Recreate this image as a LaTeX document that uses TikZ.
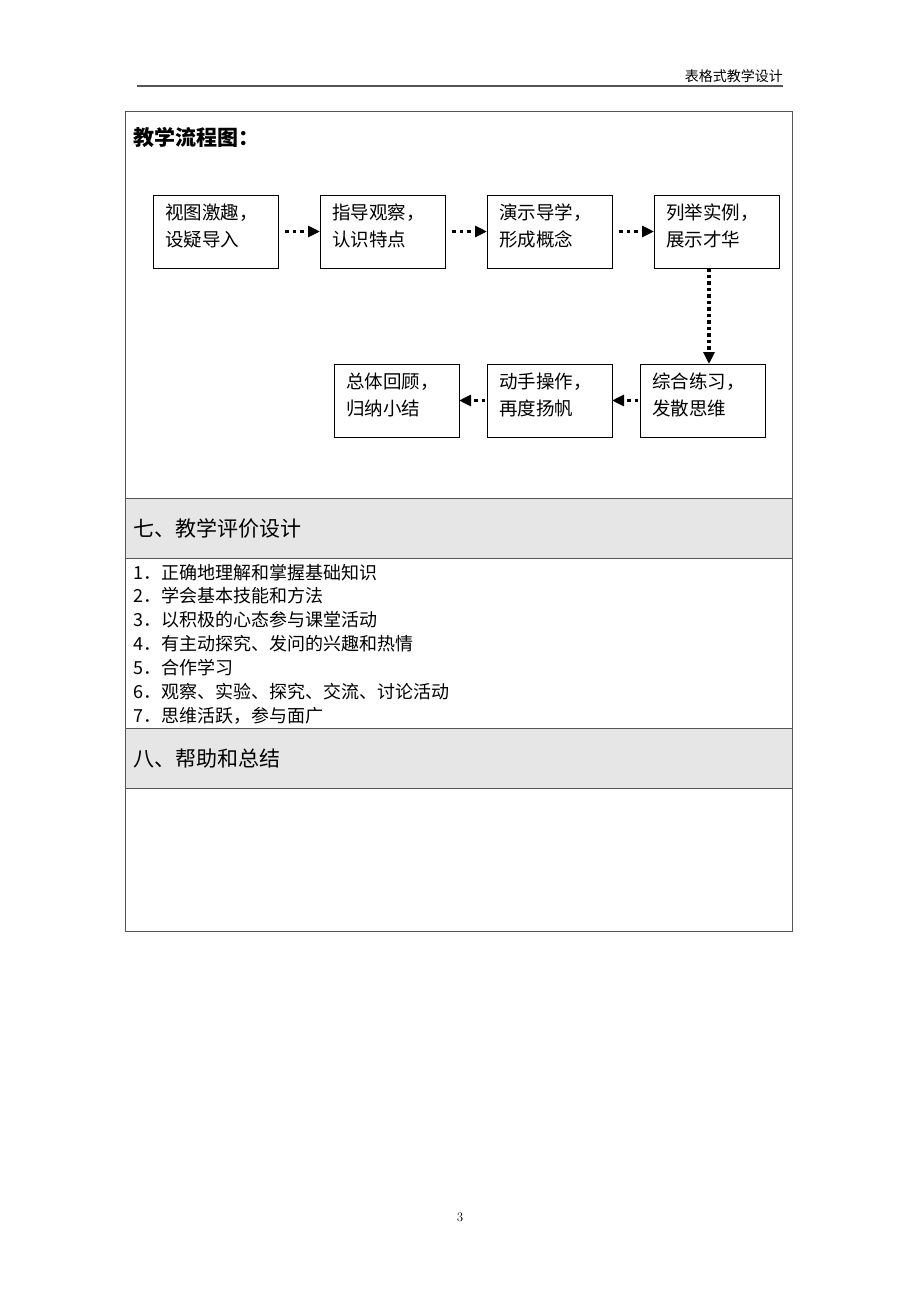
\documentclass[tikz,border=0pt]{standalone}
\usepackage{fontspec}
\newfontfamily\cjk{Noto Sans CJK SC}
\usetikzlibrary{positioning,arrows.meta}
\definecolor{rulegray}{HTML}{555555}
\definecolor{shadegray}{HTML}{E6E6E6}
\tikzset{
  flowbox/.style={draw=black, line width=1pt, outer sep=0, minimum width=125pt, minimum height=73pt,
    text width=101pt, inner xsep=12pt, align=left, text depth=40pt, font=\cjk\fontsize{18.5}{27}\selectfont},
  flowarrow/.style={line width=3.5pt, dash pattern=on 3.5pt off 4pt, -{Triangle[length=12pt,width=11pt]}},
  headtext/.style={inner sep=0, anchor=base west, font=\cjk\fontsize{21}{21}\selectfont},
  listtext/.style={inner sep=0, anchor=base west, font=\cjk\fontsize{18}{18}\selectfont},
}
\begin{document}
\begin{tikzpicture}[x=1pt, y=-1pt]
\useasboundingbox[fill=white] (0,0) rectangle (920,1302);
% page header
\node[inner sep=0, anchor=base east, font=\cjk\fontsize{14}{14}\selectfont] (pagehead) at (783,81) {表格式教学设计};
\draw[line width=2pt, rulegray] (137,86) -- (783,86);
% table
\fill[shadegray] (125,498) rectangle (792,558);
\fill[shadegray] (125,728) rectangle (792,788);
\draw[line width=1pt, rulegray] (125,111) rectangle (792,931);
\foreach \ry in {498,558,728,788}
  \draw[line width=1pt, rulegray] (125,\ry) -- (792,\ry);
\node[headtext, font=\cjk\bfseries\fontsize{21}{21}\selectfont] (flowtitle) at (133,145) {教学流程图：};
\node[headtext] (evaltitle) at (133,536) {七、教学评价设计};
\node[headtext] (sumtitle) at (133,766) {八、帮助和总结};
\foreach \txt [count=\i] in {{正确地理解和掌握基础知识},{学会基本技能和方法},{以积极的心态参与课堂活动},
    {有主动探究、发问的兴趣和热情},{合作学习},{观察、实验、探究、交流、讨论活动},{思维活跃，参与面广}}
  \node[listtext] (item\i) at (133,{579+23.9*(\i-1)}) {\i．\txt};
% flow chart
\node[flowbox] (view) at (215.5,231.5) {视图激趣，\\设疑导入};
\node[flowbox, right=42pt of view] (guide) {指导观察，\\认识特点};
\node[flowbox, right=42pt of guide] (demo) {演示导学，\\形成概念};
\node[flowbox, right=42pt of demo] (example) {列举实例，\\展示才华};
\node[flowbox] (practice) at (702.5,400.5) {综合练习，\\发散思维};
\node[flowbox, left=28pt of practice] (handson) {动手操作，\\再度扬帆};
\node[flowbox, left=28pt of handson] (review) {总体回顾，\\归纳小结};
\coordinate (downx) at (709,0);
\draw[flowarrow, shorten <=7pt] (view) -- (guide);
\draw[flowarrow, shorten <=7pt] (guide) -- (demo);
\draw[flowarrow, shorten <=7pt] (demo) -- (example);
\draw[flowarrow, dash pattern=on 3.5pt off 3pt] (example.south -| downx) -- (practice.north -| downx);
\draw[flowarrow, shorten <=2pt] (practice) -- (handson);
\draw[flowarrow, shorten <=2pt] (handson) -- (review);
% page number
\node[inner sep=0, font=\fontsize{13}{13}\selectfont] (pagenum) at (460,1217) {3};
\end{tikzpicture}
\end{document}
